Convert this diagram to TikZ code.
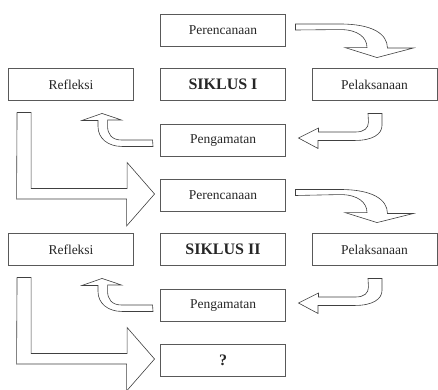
\documentclass[tikz,border=0pt]{standalone}
\usepackage{fontspec}
\setmainfont{Liberation Serif}
\usepackage{tikz}
\usetikzlibrary{positioning,calc}
\tikzset{
    box/.style={draw=black!65, line width=0.9pt, minimum width=125pt, minimum height=32pt, inner sep=0pt, text=black!85, font=\fontsize{13.5}{16}\selectfont},
    titlebox/.style={box, font=\fontsize{16}{19}\selectfont\bfseries},
    hollow/.style={draw=black!75, line width=0.6pt, fill=white, line join=miter}
}

\begin{document}
\begin{tikzpicture}[x=1pt,y=-1pt]
        \useasboundingbox (0,0) rectangle (438,389);
        \node[box] (P1) at (223,30) {Perencanaan};
        \node[box] (P2) at (223,195.5) {Perencanaan};
        \node[titlebox] (P3) at (223,360.5) {?};
        \foreach \x/\d/\lbl in {1/0/I, 2/165/II}
            {
                \node[box] (R\x) at (71,84.5+\d) {Refleksi};
                \node[titlebox] (S\x) at (223,84.5+\d) {SIKLUS \lbl};
                \node[box] (L\x) at (374.5,84.5+\d) {Pelaksanaan};
                \node[box] (G\x) at (223,140.5+\d) {Pengamatan};
            }

        \foreach \x/\y in {1/2, 2/3}
            {
                \draw[hollow] ($(P\x.east)+(9.5,-6)$) -- ++(45,0) .. controls +(32,0) and +(0,-14) .. ++(47,24) -- ++(26,0) -- ($(L\x.north)+(2.5,-10.5)$) -- ++(-32,-10) -- ++(22,0) .. controls +(0,-10) and +(18,0) .. ++(-27,-18) -- ($(P\x.east)+(9.5,0)$) -- cycle;
                \draw[hollow] ($(L\x.south)+(-6.5,12.5)$) -- ++(14,0) -- ++(0,12) .. controls +(0,9) and +(17,0) .. ++(-27,15) -- ++(-37,0) -- ++(0,8) -- ($(G\x.east)+(12.5,-2.5)$) -- ++(20,-10) -- ++(0,4) -- ++(37,0) .. controls +(9,0) and +(0,6) .. ++(13,-10) -- cycle;
                \draw[hollow] ($(G\x.west)+(-7.5,-0.5)$) -- ++(-31,0) .. controls +(-10,0) and +(0,8) .. ++(-14,-14) -- ++(0,-6) -- ++(14,0) -- ($(R\x.south)+(31,12.5)$) -- ++(-20,7) -- ++(16,0) -- ++(0,6) .. controls +(0,12) and +(-14,0) .. ++(24,20) -- ++(31,0) -- cycle;
                \draw[hollow] ($(R\x.south west)+(9,11.5)$) -- ++(14,0) -- ++(0,76) -- ++(96,0) -- ++(0,-26) -- ($(P\y.west)+(-5.5,-1.5)$) -- ++(-28,32) -- ++(0,-27) -- ++(-110,0) -- cycle;
            }
\end{tikzpicture}
\end{document}
